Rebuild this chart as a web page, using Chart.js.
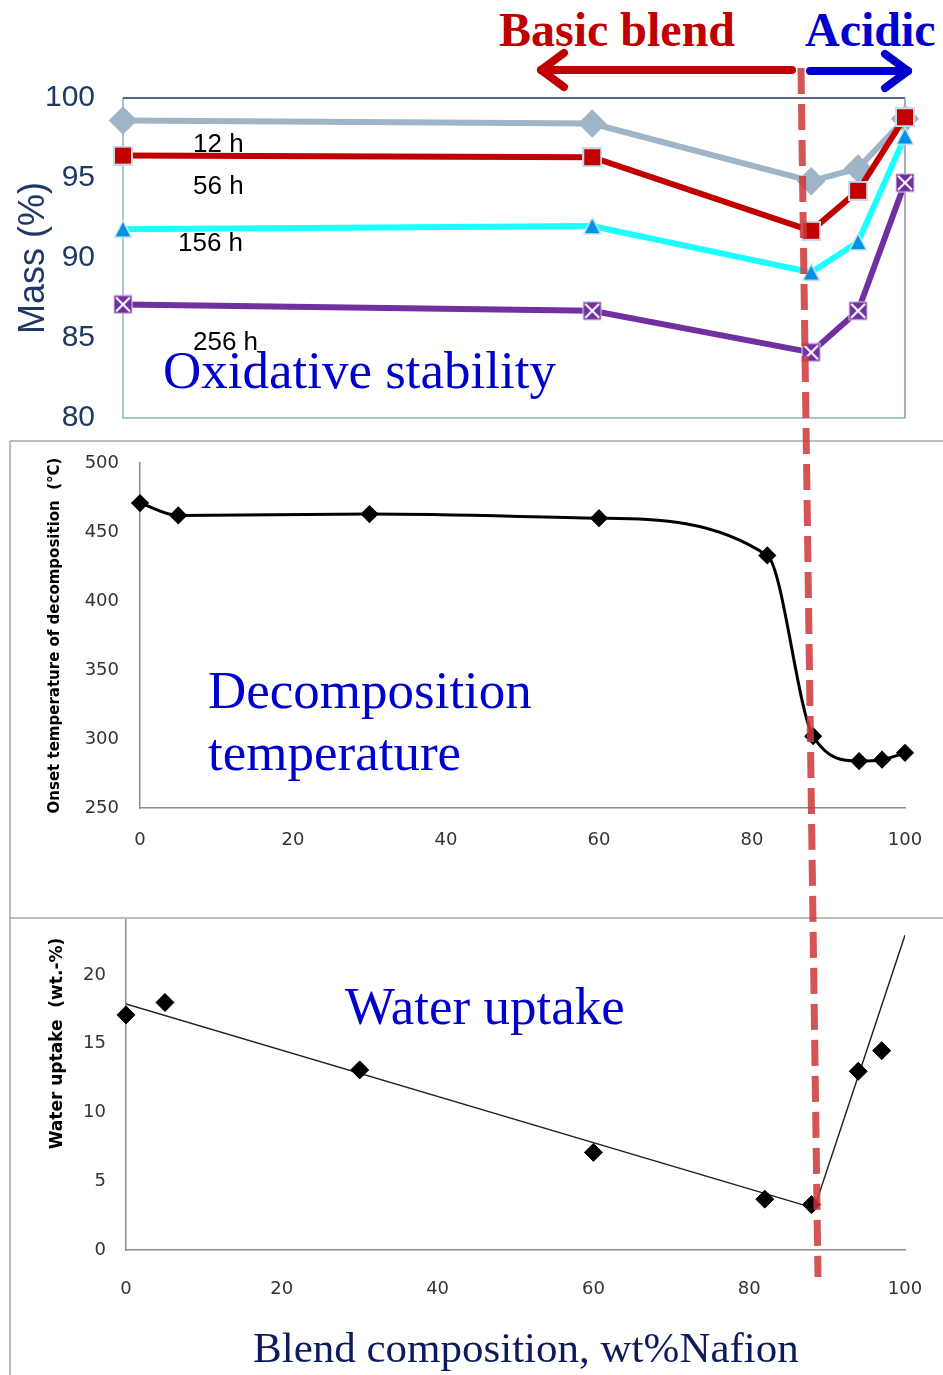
<!DOCTYPE html>
<html>
<head>
<meta charset="utf-8">
<title>Blend composition</title>
<script src="https://cdn.jsdelivr.net/npm/chart.js@4.4.1/dist/chart.umd.min.js"></script>
<style>
  body { margin: 0; background: #fff; }
  #page { position: relative; width: 943px; height: 1375px; overflow: hidden; background: #fff; }
  #page canvas { position: absolute; }
  .note { position: absolute; white-space: nowrap; line-height: 1; }
  .serif { font-family: "Liberation Serif", "Times New Roman", serif; }
  .sans { font-family: "Liberation Sans", Arial, sans-serif; }
</style>
</head>
<body>
<div id="page">
  <canvas id="massChart" width="943" height="360" style="left:0;top:80px"></canvas>
  <canvas id="decompChart" width="933" height="476" style="left:10px;top:442px"></canvas>
  <canvas id="uptakeChart" width="933" height="470" style="left:10px;top:905px"></canvas>

  <div class="note serif" style="left:499px;top:6px;font-size:48px;font-weight:bold;color:#c00000">Basic blend</div>
  <div class="note serif" style="left:805px;top:6px;font-size:48px;font-weight:bold;color:#0000cc">Acidic</div>

  <div class="note sans" style="left:193px;top:130px;font-size:26px;color:#000">12 h</div>
  <div class="note sans" style="left:193px;top:172px;font-size:26px;color:#000">56 h</div>
  <div class="note sans" style="left:178px;top:229px;font-size:26px;color:#000">156 h</div>
  <div class="note sans" style="left:193px;top:328px;font-size:26px;color:#000">256 h</div>
  <div class="note serif" style="left:163px;top:344px;font-size:53px;color:#0000cc">Oxidative stability</div>

  <div class="note serif" style="left:208px;top:664px;font-size:53px;color:#0000cc">Decomposition</div>
  <div class="note serif" style="left:208px;top:726px;font-size:53px;color:#0000cc">temperature</div>

  <div class="note serif" style="left:345px;top:980px;font-size:53px;color:#0000cc">Water uptake</div>
  <div class="note serif" style="left:253px;top:1326px;font-size:43px;color:#0d1b5e">Blend composition, wt%Nafion</div>

  <canvas id="overlay" width="943" height="1375" style="left:0;top:0;pointer-events:none"></canvas>
</div>

<script>
// mass retained after oxidative test, wt% Nafion on x
const massX = [0, 60, 88, 94, 100];
const mass12h = [98.6, 98.4, 94.8, 95.6, 98.7];
const mass56h = [96.4, 96.3, 91.7, 94.2, 98.8];
const mass156h = [91.8, 92.0, 89.1, 91.0, 97.6];
const mass256h = [87.1, 86.7, 84.1, 86.7, 94.7];

// onset temperature of decomposition (°C)
const decompX = [0, 5, 30, 60, 82, 88, 94, 97, 100];
const decompTemp = [471, 462, 463, 460, 433, 302, 284, 285, 290];

// water uptake (wt.-%) with the two linear trends
const uptakeX = [0, 5, 30, 60, 82, 88, 94, 97];
const uptakeVal = [17.1, 18.0, 13.1, 7.1, 3.7, 3.3, 13.0, 14.5];
const basicTrendX = [0, 88];
const basicTrendY = [17.9, 3.1];
const acidicTrendX = [88.4, 100];
const acidicTrendY = [3.1, 22.9];

const zip = (xs, ys) => xs.map((x, i) => ({ x: x, y: ys[i] }));

// small marker images for the mass series
function makeMarker(size, draw) {
    const c = document.createElement('canvas');
    c.width = size;
    c.height = size;
    draw(c.getContext('2d'), size);
    return c;
}

const squareMark = makeMarker(20, (ctx, s) => {
    ctx.fillStyle = '#c00000';
    ctx.fillRect(1, 1, s - 2, s - 2);
    ctx.strokeStyle = '#c5dcf0';
    ctx.lineWidth = 2;
    ctx.strokeRect(1, 1, s - 2, s - 2);
});

const triangleMark = makeMarker(20, (ctx, s) => {
    ctx.beginPath();
    ctx.moveTo(s / 2, 1.5);
    ctx.lineTo(s - 1.5, s - 2);
    ctx.lineTo(1.5, s - 2);
    ctx.closePath();
    ctx.fillStyle = '#0091e6';
    ctx.fill();
    ctx.strokeStyle = '#cfe6f7';
    ctx.lineWidth = 1.5;
    ctx.stroke();
});

const crossMark = makeMarker(20, (ctx, s) => {
    ctx.fillStyle = '#7030a0';
    ctx.fillRect(1, 1, s - 2, s - 2);
    ctx.strokeStyle = '#dccbeb';
    ctx.lineWidth = 1;
    ctx.strokeRect(1, 1, s - 2, s - 2);
    ctx.strokeStyle = '#ffffff';
    ctx.lineWidth = 2;
    ctx.beginPath();
    ctx.moveTo(3, 3); ctx.lineTo(s - 3, s - 3);
    ctx.moveTo(s - 3, 3); ctx.lineTo(3, s - 3);
    ctx.stroke();
});

// box round the plot area of the mass chart
const frameBox = {
    id: 'frameBox',
    beforeDatasetsDraw(chart) {
        const { ctx, chartArea: a } = chart;
        ctx.save();
        ctx.lineWidth = 1.5;
        ctx.strokeStyle = '#8fb6ba';
        ctx.beginPath();
        ctx.moveTo(a.left, a.top); ctx.lineTo(a.left, a.bottom); ctx.lineTo(a.right, a.bottom);
        ctx.stroke();
        ctx.strokeStyle = '#1f3864';
        ctx.beginPath();
        ctx.moveTo(a.left, a.top); ctx.lineTo(a.right, a.top);
        ctx.stroke();
        ctx.strokeStyle = '#8496b0';
        ctx.beginPath();
        ctx.moveTo(a.right, a.top); ctx.lineTo(a.right, a.bottom);
        ctx.stroke();
        ctx.restore();
    }
};

// fixed axis sizes; the plot area is set by layout.padding alone
function fixWidth(w) {
    return axis => {
        axis.width = w;
        axis.paddingTop = 0;
        axis.paddingBottom = 0;
    };
}
function fixHeight(h) {
    return axis => {
        axis.height = h;
        axis.paddingLeft = 0;
        axis.paddingRight = 0;
    };
}

Chart.defaults.animation = false;
Chart.defaults.responsive = false;
Chart.defaults.plugins.legend.display = false;
Chart.defaults.plugins.tooltip.enabled = false;

function massSeries(data, color, style, radius, order) {
    return {
        data: zip(massX, data),
        showLine: true,
        borderColor: color,
        borderWidth: 6,
        backgroundColor: color,
        pointStyle: style,
        pointRadius: radius,
        pointBorderColor: color,
        pointBackgroundColor: color,
        tension: 0,
        clip: false,
        order: order
    };
}

new Chart(document.getElementById('massChart'), {
    type: 'scatter',
    data: {
        datasets: [
            massSeries(mass12h, '#9fb4c6', 'rectRot', 10, 3),
            massSeries(mass56h, '#c00000', squareMark, 10, 2),
            massSeries(mass156h, '#1affff', triangleMark, 10, 1),
            massSeries(mass256h, '#7030a0', crossMark, 10, 0)
        ]
    },
    options: {
        layout: { padding: { top: 18, right: 38, bottom: 22, left: 0 } },
        scales: {
            x: { type: 'linear', min: 0, max: 100, display: false },
            y: {
                min: 80,
                max: 100,
                afterFit: fixWidth(123),
                grid: { display: false, drawTicks: false },
                border: { display: false },
                ticks: {
                    stepSize: 5,
                    padding: 28,
                    color: '#1f3864',
                    font: { family: '"Liberation Sans", Arial, sans-serif', size: 30 }
                },
                title: {
                    display: true,
                    text: 'Mass (%)',
                    color: '#1f3864',
                    padding: { top: 12, bottom: 0 },
                    font: { family: '"Liberation Sans", Arial, sans-serif', size: 36 }
                }
            }
        }
    },
    plugins: [frameBox]
});

const tickFont = { family: '"DejaVu Sans", Verdana, sans-serif', size: 18 };
const axisLine = { display: true, color: '#8c8c8c', width: 1.5 };

new Chart(document.getElementById('decompChart'), {
    type: 'scatter',
    data: {
        datasets: [{
            data: zip(decompX, decompTemp),
            showLine: true,
            borderColor: '#000',
            borderWidth: 3,
            cubicInterpolationMode: 'monotone',
            pointStyle: 'rectRot',
            pointRadius: 7,
            pointBackgroundColor: '#000',
            pointBorderColor: '#000',
            clip: false
        }]
    },
    options: {
        layout: { padding: { top: 21, right: 38, bottom: 0, left: 0 } },
        scales: {
            x: {
                type: 'linear',
                min: 0,
                max: 100,
                afterFit: fixHeight(110),
                grid: { display: false, drawTicks: false },
                border: axisLine,
                ticks: { stepSize: 20, padding: 22, color: '#333', font: tickFont }
            },
            y: {
                min: 250,
                max: 500,
                afterFit: fixWidth(130),
                grid: { display: false, drawTicks: false },
                border: axisLine,
                ticks: { stepSize: 50, padding: 21, color: '#333', font: tickFont },
                title: {
                    display: true,
                    text: 'Onset temperature of decomposition  (°C)',
                    color: '#000',
                    padding: { top: 36, bottom: 0 },
                    font: { family: '"DejaVu Sans", Verdana, sans-serif', size: 15, weight: 'bold' }
                }
            }
        }
    }
});

new Chart(document.getElementById('uptakeChart'), {
    type: 'scatter',
    data: {
        datasets: [
            {
                data: zip(uptakeX, uptakeVal),
                pointStyle: 'rectRot',
                pointRadius: 9,
                pointBackgroundColor: '#000',
                pointBorderColor: '#000',
                clip: false
            },
            {
                data: zip(basicTrendX, basicTrendY),
                showLine: true,
                borderColor: '#222',
                borderWidth: 1.5,
                pointRadius: 0
            },
            {
                data: zip(acidicTrendX, acidicTrendY),
                showLine: true,
                borderColor: '#222',
                borderWidth: 1.5,
                pointRadius: 0
            }
        ]
    },
    options: {
        layout: { padding: { top: 15, right: 38, bottom: 0, left: 0 } },
        scales: {
            x: {
                type: 'linear',
                min: 0,
                max: 100,
                afterFit: fixHeight(125),
                grid: { display: false, drawTicks: false },
                border: axisLine,
                ticks: { stepSize: 20, padding: 29, color: '#333', font: tickFont }
            },
            y: {
                min: 0,
                max: 24,
                afterFit: fixWidth(116),
                afterBuildTicks: axis => { axis.ticks = axis.ticks.filter(t => t.value % 5 === 0); },
                grid: { display: false, drawTicks: false },
                border: axisLine,
                ticks: { stepSize: 5, padding: 20, color: '#333', font: tickFont },
                title: {
                    display: true,
                    text: 'Water uptake  (wt.-%)   ',
                    color: '#000',
                    align: 'end',
                    padding: { top: 37, bottom: 0 },
                    font: { family: '"DejaVu Sans", Verdana, sans-serif', size: 17, weight: 'bold' }
                }
            }
        }
    }
});

// panel frames, direction arrows and the basic/acidic boundary
const ov = document.getElementById('overlay').getContext('2d');

ov.strokeStyle = '#a6a6a6';
ov.lineWidth = 1.5;
ov.beginPath();
ov.moveTo(10, 441); ov.lineTo(943, 441);
ov.moveTo(10, 918); ov.lineTo(943, 918);
ov.moveTo(10, 441); ov.lineTo(10, 1375);
ov.stroke();

function arrow(x0, x1, y, color) {
    const dir = x1 < x0 ? -1 : 1;
    ov.strokeStyle = color;
    ov.lineWidth = 8;
    ov.lineCap = 'round';
    ov.lineJoin = 'round';
    ov.beginPath();
    ov.moveTo(x0, y);
    ov.lineTo(x1, y);
    ov.stroke();
    ov.beginPath();
    ov.moveTo(x1 - dir * 23, y - 17);
    ov.lineTo(x1, y);
    ov.lineTo(x1 - dir * 23, y + 17);
    ov.stroke();
}
arrow(792, 541, 70, '#c00000');
arrow(810, 908, 71, '#0000cc');

ov.lineCap = 'butt';
ov.strokeStyle = 'rgba(205, 55, 55, 0.85)';
ov.lineWidth = 7;
ov.setLineDash([26, 10]);
ov.beginPath();
ov.moveTo(801, 68);
ov.lineTo(818, 1277);
ov.stroke();
</script>
</body>
</html>
